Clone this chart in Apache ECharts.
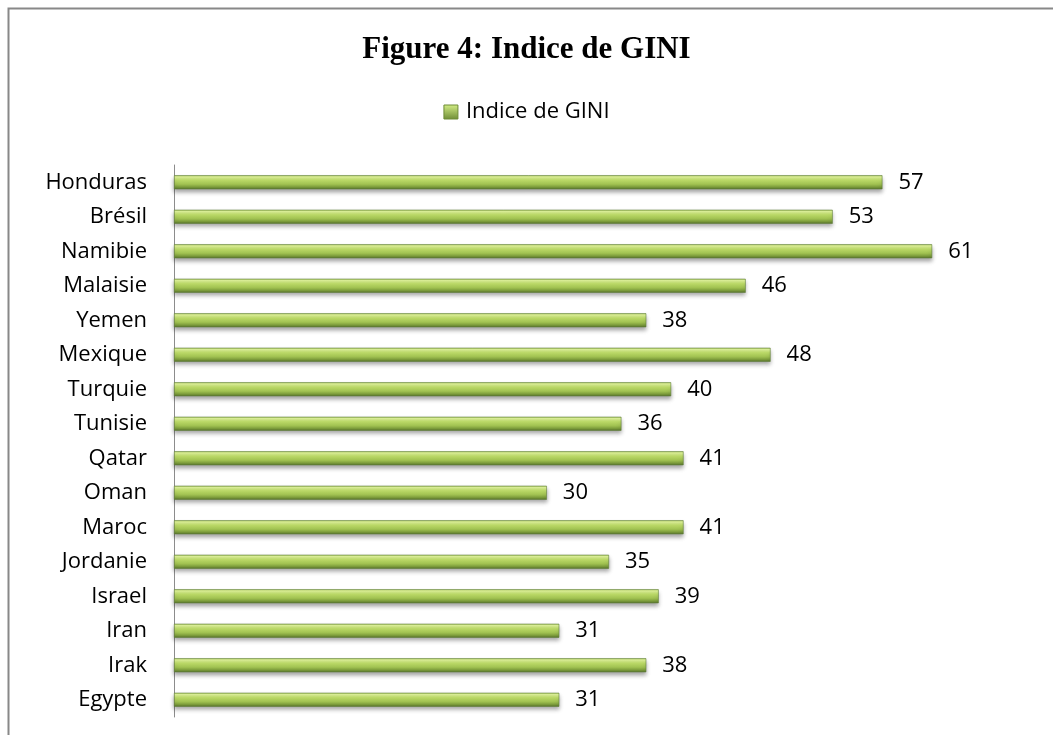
<!DOCTYPE html>
<html>
<head>
<meta charset="utf-8">
<script src="https://cdn.jsdelivr.net/npm/echarts@6/dist/echarts.min.js"></script>
<style>
html,body{margin:0;padding:0;background:#fff;}
#chart{width:1053px;height:735px;}
</style>
</head>
<body>
<div id="chart"></div>
<script>
// Data (bottom to top, as ECharts category axis draws first item at bottom)
var categories = ["Egypte","Irak","Iran","Israel","Jordanie","Maroc","Oman","Qatar","Tunisie","Turquie","Mexique","Yemen","Malaisie","Namibie","Brésil","Honduras"];
var values = [31,38,31,39,35,41,30,41,36,40,48,38,46,61,53,57];
var seriesName = "Indice de GINI";
var titleText = "Figure 4: Indice de GINI";

var chart = echarts.init(document.getElementById('chart'));
var barGrad = new echarts.graphic.LinearGradient(0,0,0,1,[
  {offset:0, color:'#a9c95c'},
  {offset:0.12, color:'#dff39a'},
  {offset:0.35, color:'#c0df6a'},
  {offset:0.65, color:'#9fc050'},
  {offset:0.85, color:'#7a9a3a'},
  {offset:1, color:'#56702c'}
]);
var legendGrad = new echarts.graphic.LinearGradient(0,0,0,1,[
  {offset:0, color:'#d4ee86'},
  {offset:1, color:'#6e8c36'}
]);
chart.setOption({
  animation:false,
  backgroundColor:'#fff',
  title:{
    text:titleText, left:'center', top:29,
    textStyle:{fontFamily:'Liberation Serif', fontWeight:'bold', fontSize:31, color:'#000'}
  },
  legend:{
    top:96, left:'center', icon:'rect', itemWidth:14, itemHeight:14, itemGap:6,
    data:[{name:seriesName, itemStyle:{color:legendGrad, borderColor:'#6e8c36', borderWidth:1}}],
    textStyle:{fontFamily:'Open Sans', fontSize:22, color:'#000', padding:[0,0,0,3]}
  },
  grid:{left:174, top:165, width:870, height:552, containLabel:false},
  xAxis:{
    type:'value', min:0, max:70, interval:10, show:false
  },
  yAxis:{
    type:'category', data:categories,
    axisLine:{show:true, lineStyle:{color:'#8c8c8c', width:1}},
    axisTick:{show:false},
    axisLabel:{fontFamily:'Open Sans', fontSize:22, color:'#000', margin:27}
  },
  series:[{
    name:seriesName, type:'bar', data:values, barWidth:14,
    itemStyle:{color:barGrad, borderColor:'#62803a', borderWidth:0.6,
      shadowColor:'rgba(0,0,0,0.35)', shadowBlur:4, shadowOffsetY:3},
    label:{show:true, position:'right', distance:16, fontFamily:'Open Sans', fontSize:22, color:'#000'}
  }],
  graphic:[{
    type:'rect', left:6, top:6, silent:true,
    shape:{x:0,y:0,width:1100,height:800},
    style:{fill:'none', stroke:'#888', lineWidth:2}
  }]
});
</script>
</body>
</html>
